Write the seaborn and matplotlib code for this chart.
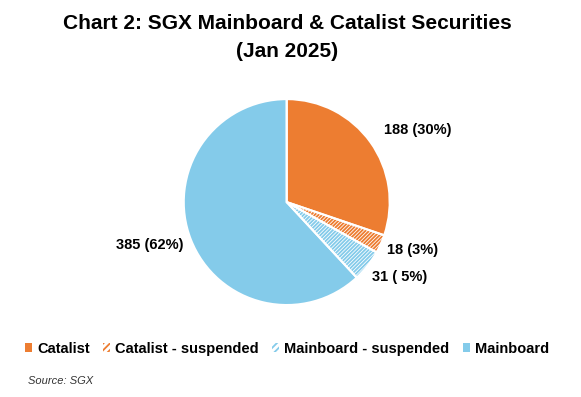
import matplotlib
matplotlib.use("Agg")
import matplotlib.pyplot as plt
import matplotlib.patches as mpatches
import seaborn as sns

# --- DATA ---
categories = ['Catalist', 'Catalist - suspended', 'Mainboard - suspended', 'Mainboard']
counts = [188, 18, 31, 385]
pct_labels = ['188 (30%)', '18 (3%)', '31 ( 5%)', '385 (62%)']

ORANGE = '#ED7D31'
BLUE = '#84CBEA'
colors = [ORANGE, 'white', 'white', BLUE]
hatch_colors = [ORANGE, ORANGE, BLUE, BLUE]
hatches = [None, '/' * 9, '/' * 9, None]

sns.set_theme(style="white")
plt.rcParams['font.family'] = ['Liberation Sans', 'DejaVu Sans']
plt.rcParams['text.color'] = 'black'
plt.rcParams['hatch.linewidth'] = 1.3

fig = plt.figure(figsize=(5.81, 3.97), dpi=100)
ax = fig.add_axes([0.272, 0.1665, 0.443, 0.649])

# hatched base layer
wedges, _ = ax.pie(counts, colors=colors, startangle=90, counterclock=False,
                   wedgeprops=dict(linewidth=0))
for w, h, hc in zip(wedges, hatches, hatch_colors):
    if h:
        w.set_hatch(h)
        w.set_edgecolor(hc)
        w.set_linewidth(0)

# white borders on top
ax.pie(counts, colors=['none'] * 4, startangle=90, counterclock=False,
       wedgeprops=dict(linewidth=1.5, edgecolor='white', fill=False))
ax.set_aspect('equal')

# data labels
label_pos = [(1.27, 0.70), (1.22, -0.47), (1.10, -0.73), (-1.33, -0.42)]
for (x, y), txt in zip(label_pos, pct_labels):
    ax.text(x, y, txt, ha='center', va='center', fontsize=10.5, fontweight='bold')

fig.text(0.494, 0.965, 'Chart 2: SGX Mainboard & Catalist Securities\n(Jan 2025)',
         ha='center', va='top', fontsize=15, fontweight='bold', linespacing=1.6)

handles = []
for c, h, hc in zip(colors, hatches, hatch_colors):
    p = mpatches.Patch(facecolor=c, hatch='/' * 5 if h else None,
                       edgecolor=hc, linewidth=0)
    handles.append(p)
leg = fig.legend(handles, categories, loc='center', bbox_to_anchor=(0.494, 0.122),
                 ncol=4, frameon=False, handlelength=0.5, handleheight=0.5,
                 handletextpad=0.35, columnspacing=0.9,
                 prop=dict(size=10.5, weight='bold'))

fig.text(0.048, 0.032, 'Source: SGX', fontsize=8, style='italic', color='#333333')

fig.savefig('out.png', dpi=100)
